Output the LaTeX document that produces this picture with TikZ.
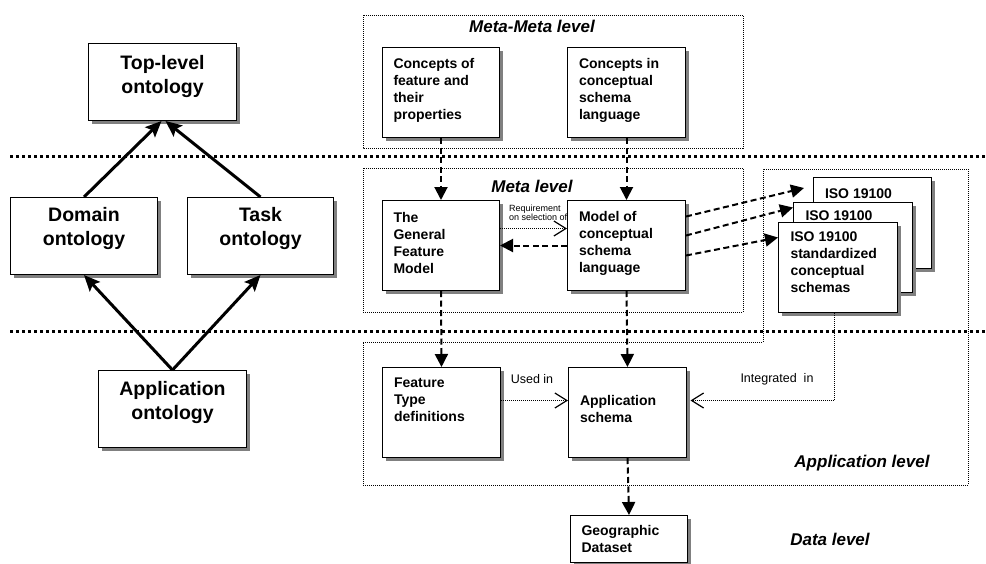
\documentclass[tikz,border=0pt]{standalone}
\usepackage{fontspec}
\setmainfont{Liberation Sans}
\usetikzlibrary{arrows.meta,shadows}
\newcommand\ctext[2]{\parbox{95pt}{\raggedright #2\par\vspace{#1}}}
\newcommand\otext[2]{\parbox{140pt}{\centering #2\par\vspace{#1}}}
\tikzset{
  sbox/.style={draw, line width=1pt, fill=white, inner sep=0pt, anchor=north west,
    drop shadow={shadow xshift=3pt, shadow yshift=-3pt, fill=black!50, opacity=1}},
  cbox/.style={sbox, minimum width=117pt, minimum height=90pt,
    font=\fontsize{14}{17}\selectfont\bfseries},
  obox/.style={sbox, minimum width=148pt, minimum height=77pt,
    font=\fontsize{19.5}{23.5}\selectfont\bfseries},
  ttl/.style={font=\fontsize{17}{20}\selectfont\bfseries\itshape, anchor=base, inner sep=0pt},
  lbl/.style={font=\fontsize{12.5}{15}\selectfont, inner sep=0pt},
  tiny/.style={font=\fontsize{9}{9}\selectfont, inner sep=0pt, align=left, anchor=west},
  sepline/.style={line width=3pt, dash pattern=on 3pt off 3pt},
  frm/.style={line width=0.9pt, dash pattern=on 1pt off 1pt, black},
  thk/.style={line width=3pt, -{Stealth[length=16pt,width=14pt,inset=3pt]}},
  dsh/.style={line width=2pt, dash pattern=on 6pt off 3.5pt, -{Triangle[length=13pt,width=13pt]}},
  dtt/.style={line width=1.1pt, dash pattern=on 1pt off 1pt,
    -{Straight Barb[length=12pt,width=15pt,line width=1.2pt]}}
}
\begin{document}
\begin{tikzpicture}[x=1pt,y=-1pt]
\useasboundingbox (0,0) rectangle (986,563);
% separators
\coordinate (s1l) at (10,156); \coordinate (s1r) at (986,156);
\coordinate (s2l) at (10,331); \coordinate (s2r) at (986,331);
\draw[sepline] (s1l) -- (s1r);
\draw[sepline] (s2l) -- (s2r);
% frames
\draw[frm] (363,15) rectangle (743,148);
\draw[frm] (363,168) rectangle (743,312);
\draw[frm] (363,342) -- (763,342) -- (763,169) -- (968,169) -- (968,485) -- (363,485) -- cycle;
% left ontology boxes
\node[obox] (top) at (88,43) {\otext{11pt}{Top-level\\ontology}};
\node[obox, minimum width=147pt] (dom) at (10,197) {\otext{15pt}{Domain\\ontology}};
\node[obox, minimum width=146pt] (task) at (187,197) {\otext{15pt}{Task\\ontology}};
\node[obox] (appont) at (98,370) {\otext{13pt}{Application\\ontology}};
% central boxes
\node[cbox] (cf) at (382,47) {\ctext{5pt}{Concepts of\\feature and\\their\\properties}};
\node[cbox, minimum width=118pt] (ccs) at (567,47) {\ctext{5pt}{Concepts in\\conceptual\\schema\\language}};
\node[cbox] (gfm) at (382,200) {\ctext{5pt}{The\\General\\Feature\\Model}};
\node[cbox, minimum width=118pt] (mcs) at (567,200) {\ctext{5pt}{Model of\\conceptual\\schema\\language}};
\node[cbox, minimum width=118pt] (ftd) at (382,367) {\ctext{26pt}{Feature\\Type\\definitions}};
\node[cbox, minimum width=118pt] (aps) at (568,367) {\ctext{7pt}{Application\\schema}};
\node[cbox, minimum height=47pt] (geo) at (570,515) {\ctext{0pt}{Geographic\\Dataset}};
\node[cbox, minimum width=118pt, minimum height=91pt] (iso1) at (813,177) {\ctext{59pt}{ISO 19100}};
\node[cbox, minimum width=119pt] (iso2) at (793,202) {\ctext{64pt}{ISO 19100}};
\node[cbox, minimum width=119pt] (iso3) at (778,222) {\ctext{10pt}{ISO 19100\\standardized\\conceptual\\schemas}};
% titles and labels
\node[ttl] (tmm) at (532,32) {Meta-Meta level};
\node[ttl] (tm) at (532,192) {Meta level};
\node[ttl] (tal) at (862,467) {Application level};
\node[ttl] (tdl) at (830,545) {Data level};
\node[tiny] (req) at (509,213) {Requirement\\on selection of};
\node[lbl] (used) at (532,379) {Used in};
\node[lbl] (integ) at (777,379) {Integrated\ \ in};
% ontology arrows
\draw[thk] (dom.north) -- ([xshift=-1pt]top.south);
\draw[thk] (task.north) -- ([xshift=3pt]top.south);
\draw[thk] (appont.north) -- (dom.south);
\draw[thk] (appont.north) -- (task.south);
% level arrows
\draw[dsh] (cf.south) -- (gfm.north);
\draw[dsh] (ccs.south) -- (mcs.north);
\draw[dsh] (gfm.south) -- (ftd.north);
\draw[dsh] (mcs.south) -- (aps.north);
\draw[dsh] (aps.south) -- (geo.north);
\draw[dsh] (mcs.west) -- (gfm.east);
\draw[dtt] ([yshift=17pt]gfm.east) -- ([yshift=17pt]mcs.west);
\draw[dsh] ([yshift=29pt]mcs.east) -- ([xshift=-9pt,yshift=35pt]iso1.west);
\draw[dsh] ([yshift=10pt]mcs.east) -- ([yshift=40pt]iso2.west);
\draw[dsh] ([yshift=-10pt]mcs.east) -- ([yshift=30pt]iso3.west);
\draw[dtt] ([yshift=12pt]ftd.east) -- ([yshift=12pt]aps.west);
\draw[dtt] ([xshift=-3.5pt]iso3.south) |- ([xshift=3.5pt,yshift=12pt]aps.east);
\end{tikzpicture}
\end{document}
